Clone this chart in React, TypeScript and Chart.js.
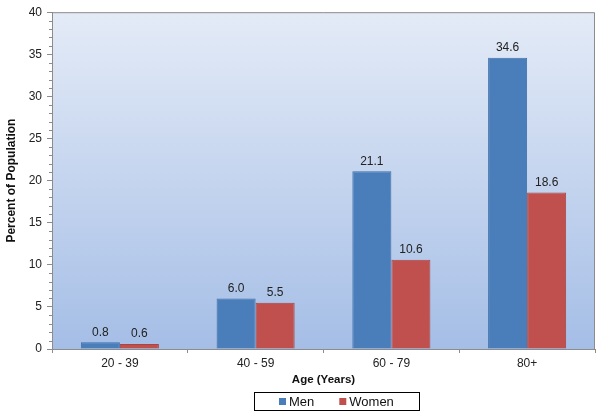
import { Chart, registerables } from 'chart.js'
import { useEffect, useRef } from 'react'

Chart.register(...registerables)

const categories = ['20 - 39', '40 - 59', '60 - 79', '80+']
const men = [0.8, 6.0, 21.1, 34.6]
const women = [0.6, 5.5, 10.6, 18.6]
const seriesNames = ['Men', 'Women']
const seriesColors = ['#4a7ebb', '#c0504d']
const seriesBorders = ['#3f6fa8', '#a94643']

const FONT = '"Liberation Sans", Arial, sans-serif'
const AXIS = '#8c8c8c'

// gradient plot background + top/right frame
const plotBg = {
  id: 'plotBg',
  beforeDraw(chart: any) {
    const { ctx, chartArea: a } = chart
    const g = ctx.createLinearGradient(0, a.top, 0, a.bottom)
    g.addColorStop(0, '#e4ebf7')
    g.addColorStop(1, '#a5bee6')
    ctx.save()
    ctx.fillStyle = g
    ctx.fillRect(a.left, a.top, a.right - a.left, a.bottom - a.top)
    ctx.strokeStyle = AXIS
    ctx.lineWidth = 1
    ctx.beginPath()
    ctx.moveTo(a.left, a.top + 0.5)
    ctx.lineTo(a.right - 0.5, a.top + 0.5)
    ctx.lineTo(a.right - 0.5, a.bottom)
    ctx.stroke()
    ctx.restore()
  },
}

// minor ticks on the value axis
const minorTicks = {
  id: 'minorTicks',
  afterDraw(chart: any) {
    const { ctx } = chart
    const y = chart.scales.y
    ctx.save()
    ctx.strokeStyle = AXIS
    ctx.lineWidth = 1
    for (let v = y.min; v <= y.max; v++) {
      if (v % 5 === 0) continue
      const py = Math.round(y.getPixelForValue(v)) + 0.5
      ctx.beginPath()
      ctx.moveTo(y.right - 3, py)
      ctx.lineTo(y.right, py)
      ctx.stroke()
    }
    ctx.restore()
  },
}

const valueLabels = {
  id: 'valueLabels',
  afterDatasetsDraw(chart: any) {
    const { ctx } = chart
    ctx.save()
    ctx.font = `12px ${FONT}`
    ctx.fillStyle = '#222'
    ctx.textAlign = 'center'
    ctx.textBaseline = 'bottom'
    chart.data.datasets.forEach((ds: any, i: number) => {
      chart.getDatasetMeta(i).data.forEach((el: any, j: number) => {
        ctx.fillText(ds.data[j].toFixed(1), el.x, el.y - 4)
      })
    })
    ctx.restore()
  },
}

// boxed legend below the axis title
const boxLegend = {
  id: 'boxLegend',
  afterDraw(chart: any) {
    const { ctx, chartArea: a } = chart
    ctx.save()
    ctx.font = `13px ${FONT}`
    const pad = 25, sq = 7, gap = 3, spacing = 25
    const items = chart.data.datasets.map((ds: any) => ({
      label: ds.label, color: ds.backgroundColor, w: ctx.measureText(ds.label).width,
    }))
    let total = pad * 2 + spacing * (items.length - 1)
    items.forEach((it: any) => { total += sq + gap + it.w })
    const cx = (a.left + a.right) / 2 + 13
    const top = 392, h = 18
    let x = Math.round(cx - total / 2)
    ctx.strokeStyle = '#000'
    ctx.lineWidth = 1
    ctx.strokeRect(x + 0.5, top + 0.5, Math.round(total), h)
    x += pad
    ctx.textBaseline = 'middle'
    ctx.textAlign = 'left'
    items.forEach((it: any) => {
      ctx.fillStyle = it.color
      ctx.fillRect(x, top + h / 2 - sq / 2 + 0.5, sq, sq)
      ctx.fillStyle = '#111'
      ctx.fillText(it.label, x + sq + gap, top + h / 2 + 1)
      x += sq + gap + it.w + spacing
    })
    ctx.restore()
  },
}

export default function App() {
  const canvasRef = useRef<HTMLCanvasElement>(null)
  const chartRef = useRef<Chart | null>(null)

  useEffect(() => {
    document.body.style.margin = '0'
    if (!canvasRef.current) return
    if (chartRef.current) { chartRef.current.destroy(); chartRef.current = null }

    chartRef.current = new Chart(canvasRef.current, {
      type: 'bar',
      data: {
        labels: categories,
        datasets: [men, women].map((d, i) => ({
          label: seriesNames[i],
          data: d,
          backgroundColor: seriesColors[i],
          borderColor: seriesBorders[i],
          borderWidth: 1,
          categoryPercentage: 0.575,
          barPercentage: 1,
        })),
      },
      options: {
        responsive: false,
        animation: false,
        layout: { padding: { top: 12, right: 9, left: 0, bottom: 0 } },
        plugins: { legend: { display: false }, tooltip: { enabled: false } },
        scales: {
          x: {
            afterFit: (s: any) => { s.height = 69 },
            grid: { drawOnChartArea: false, tickLength: 4, color: AXIS },
            border: { color: AXIS },
            ticks: { color: '#222', font: { family: FONT, size: 12 }, padding: 3 },
            title: {
              display: true, text: 'Age (Years)', color: '#111',
              font: { family: FONT, size: 11.5, weight: 'bold' },
              padding: { top: 0, bottom: 31 },
            },
          },
          y: {
            min: 0,
            max: 40,
            afterFit: (s: any) => { s.width = 52 },
            grid: { drawOnChartArea: false, tickLength: 5, color: AXIS },
            border: { color: AXIS },
            ticks: { stepSize: 5, color: '#222', font: { family: FONT, size: 12 }, padding: 5 },
            title: {
              display: true, text: 'Percent of Population', color: '#111',
              font: { family: FONT, size: 12, weight: 'bold' },
              padding: { top: 4, bottom: 0 },
            },
          },
        },
      },
      plugins: [plotBg, minorTicks, valueLabels, boxLegend],
    } as any)

    return () => { chartRef.current?.destroy() }
  }, [])

  return <canvas ref={canvasRef} width={604} height={418} />
}
